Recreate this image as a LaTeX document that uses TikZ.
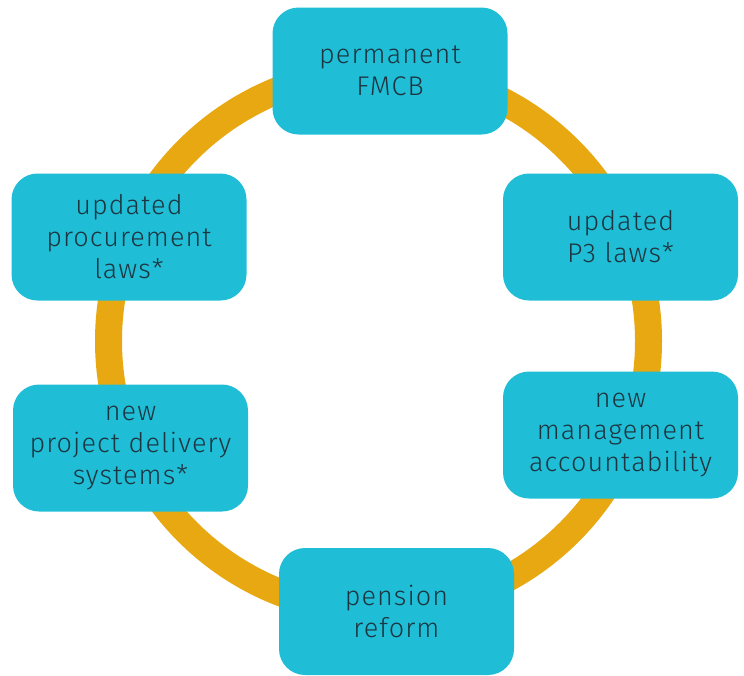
\documentclass[tikz,border=0pt]{standalone}
\usepackage{fontspec}
\setmainfont{Fira Sans}[UprightFont=* Light, LetterSpace=4]
\definecolor{boxcyan}{HTML}{1FBED6}
\definecolor{ringorange}{HTML}{E8A812}
\definecolor{txt}{HTML}{1D3540}
\begin{document}
\begin{tikzpicture}[x=1pt,y=-1pt,
  card/.style={fill=boxcyan, rounded corners=26pt, minimum width=235pt, minimum height=127pt,
    align=center, text=txt, font=\fontsize{27}{32}\selectfont, inner sep=0pt}]
\useasboundingbox (0,0) rectangle (744,675);
\draw[ringorange, line width=27pt] (378.5,341) circle[radius=270];
\node[card] (top) at (390,71) {permanent\\FMCB};
\node[card] (ru) at (620.5,237) {updated\\P3 laws*};
\node[card] (rl) at (620.5,435) {new\\management\\accountability};
\node[card] (bot) at (396.5,611.5) {pension\\reform};
\node[card] (ll) at (130.5,448) {new\\project delivery\\systems*};
\node[card] (lu) at (129,237) {updated\\procurement\\laws*};
\end{tikzpicture}
\end{document}
